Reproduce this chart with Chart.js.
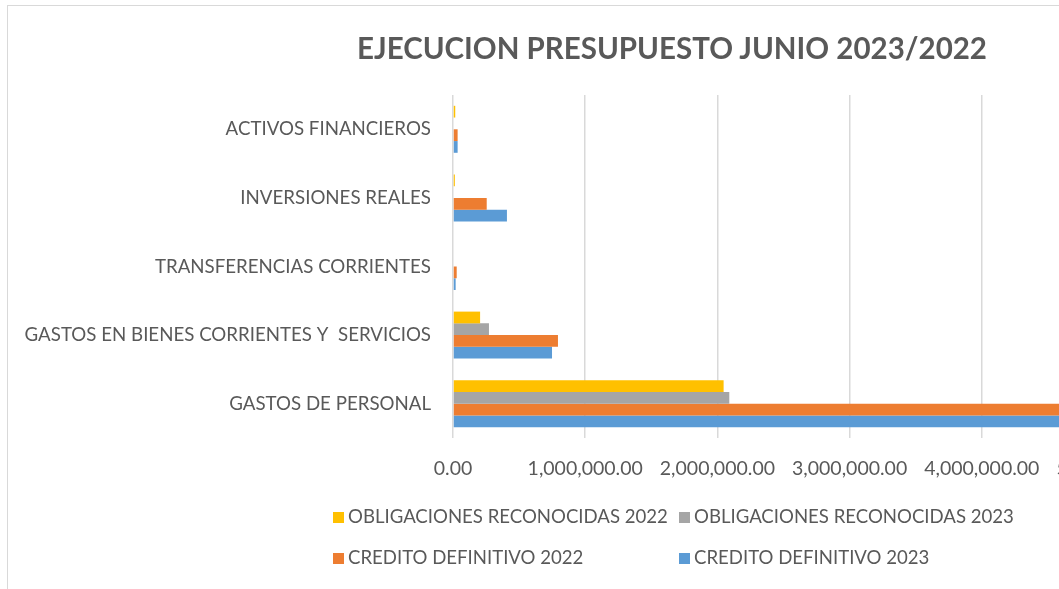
<!DOCTYPE html>
<html>
<head>
<meta charset="utf-8">
<script src="https://cdn.jsdelivr.net/npm/chart.js@4.4.0/dist/chart.umd.min.js"></script>
<style>
  html, body { margin: 0; padding: 0; background: #fff; overflow: hidden; width: 1059px; height: 589px; }
  #frame { position: absolute; left: 7px; top: 5px; width: 1400px; height: 700px; border: 1px solid #d9d9d9; box-sizing: border-box; }
  #wrap { position: absolute; left: 0; top: 0; width: 1200px; height: 589px; }
  #title { position: absolute; left: 0; width: 1344px; top: 28px; text-align: center; font-family: Lato, sans-serif; font-weight: bold; font-size: 29.5px; color: #595959; line-height: 40px; white-space: nowrap; }
  .lg { position: absolute; font-family: Lato, sans-serif; font-size: 18.6px; color: #595959; white-space: nowrap; line-height: 22px; }
  .lg span.box { display: inline-block; width: 11px; height: 11px; margin-right: 4px; vertical-align: 0px; }
</style>
</head>
<body>
<div id="frame"></div>
<div id="wrap"><canvas id="c" width="1200" height="589"></canvas></div>
<div id="title">EJECUCION PRESUPUESTO JUNIO 2023/2022</div>
<div id="legend"></div>
<script>
const categories = ['ACTIVOS FINANCIEROS', 'INVERSIONES REALES', 'TRANSFERENCIAS CORRIENTES', 'GASTOS EN BIENES CORRIENTES Y  SERVICIOS', 'GASTOS DE PERSONAL'];
const seriesNames = ['OBLIGACIONES RECONOCIDAS 2022', 'OBLIGACIONES RECONOCIDAS 2023', 'CREDITO DEFINITIVO 2022', 'CREDITO DEFINITIVO 2023'];
const oblig2022 = [17000, 14000, 0, 205000, 2047000];
const oblig2023 = [0, 0, 0, 272000, 2090000];
const cred2022 = [35000, 255000, 28000, 794000, 4700000];
const cred2023 = [35000, 408000, 20000, 749000, 4750000];
const tickValues = [0, 1000000, 2000000, 3000000, 4000000, 5000000];
const colors = ['#FFC000', '#A5A5A5', '#ED7D31', '#5B9BD5'];

const seriesData = [oblig2022, oblig2023, cred2022, cred2023];
const datasets = seriesNames.map((n, i) => ({
  label: n,
  data: seriesData[i],
  backgroundColor: colors[i],
  borderWidth: 0,
  categoryPercentage: 0.685,
  barPercentage: 1.0
}));

new Chart(document.getElementById('c'), {
  type: 'bar',
  data: { labels: categories, datasets },
  options: {
    indexAxis: 'y',
    responsive: false,
    animation: false,
    devicePixelRatio: 1,
    layout: { padding: { top: 95, right: 86, bottom: 0, left: 0 } },
    plugins: { legend: { display: false }, title: { display: false }, tooltip: { enabled: false } },
    scales: {
      x: {
        min: 0, max: 5000000,
        afterBuildTicks: (s) => { s.ticks = tickValues.map(v => ({ value: v })); },
        afterFit: (s) => { s.height = 151; },
        grid: { color: '#d9d9d9', lineWidth: 1.5, drawTicks: false },
        border: { display: false },
        ticks: {
          color: '#595959', font: { family: 'Lato, sans-serif', size: 19.5 }, padding: 19, maxRotation: 0, autoSkip: false,
          callback: (v) => Number(v).toLocaleString('en-US', { minimumFractionDigits: 2, maximumFractionDigits: 2 })
        }
      },
      y: {
        afterFit: (s) => { s.width = 453; },
        grid: { display: false, drawTicks: false },
        border: { display: false },
        ticks: { color: '#595959', font: { family: 'Lato, sans-serif', size: 18.7 }, padding: 22, autoSkip: false }
      }
    }
  }
});

const legendPos = [[333, 505], [679, 505], [333, 546], [679, 546]];
const lg = document.getElementById('legend');
seriesNames.forEach((n, i) => {
  const d = document.createElement('div');
  d.className = 'lg';
  d.style.left = legendPos[i][0] + 'px';
  d.style.top = legendPos[i][1] + 'px';
  d.innerHTML = '<span class="box" style="background:' + colors[i] + '"></span>' + n;
  lg.appendChild(d);
});
</script>
</body>
</html>
